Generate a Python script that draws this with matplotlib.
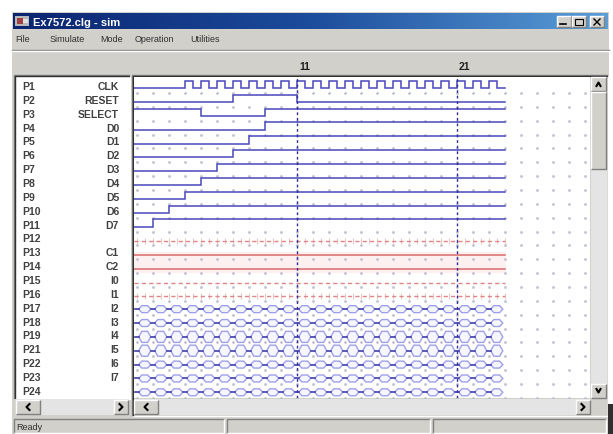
import numpy as np
import matplotlib.pyplot as plt
from matplotlib.patches import Rectangle, Polygon
from matplotlib.colors import LinearSegmentedColormap

plt.rcParams['font.family'] = ['Liberation Sans', 'DejaVu Sans']

# 信号列表
pin_labels = ['P1', 'P2', 'P3', 'P4', 'P5', 'P6', 'P7', 'P8', 'P9', 'P10', 'P11', 'P12',
              'P13', 'P14', 'P15', 'P16', 'P17', 'P18', 'P19', 'P21', 'P22', 'P23', 'P24']
signal_names = ['CLK', 'RESET', 'SELECT', 'D0', 'D1', 'D2', 'D3', 'D4', 'D5', 'D6', 'D7', '',
                'C1', 'C2', 'I0', 'I1', 'I2', 'I3', 'I4', 'I5', 'I6', 'I7', '']

# 时间范围
t_start = 0.83
t_end = 24
t_view = 29.33

# 逻辑信号：初始电平和跳变时刻
clk_edges = [4, 4.5, 5, 5.5, 6, 6.5, 7, 7.5, 8, 8.5, 9, 9.5, 10, 10.5, 11, 11.5,
             12, 12.5, 13, 13.5, 14, 14.5, 15, 15.5, 16, 16.5, 17, 17.5, 18, 18.5,
             19, 19.5, 20, 20.5, 21, 21.5, 22, 22.5, 23, 23.5]
reset_edges = [7, 11]
select_edges = [5, 9]
data_edges = [[9], [8], [7], [6], [5], [4], [3], [2]]  # D0..D7
logic_init = [0, 0, 1, 0, 0, 0, 0, 0, 0, 0, 0]

# 红色行 (P12..P16) 的样式
red_rows = [11, 12, 13, 14, 15]
red_kind = ['tick', 'solid', 'solid', 'dash', 'tick']

# 总线行 (P17..P24)
bus_rows = [16, 17, 18, 19, 20, 21, 22]
bus_edges = [1, 2, 3, 4, 5, 6, 7, 8, 9, 10, 11, 12, 13, 14, 15, 16, 17, 18, 19, 20,
             21, 22, 23, 24]
bus_height = [0.25, 0.25, 0.4, 0.4, 0.25, 0.25, 0.25]

cursor_times = [11, 21]
cursor_labels = ['11', '21']

W, H = 613, 435
GREY = '#d2d0cb'
DARK = '#808080'
BLUE = '#4848bc'

fig = plt.figure(figsize=(W / 100, H / 100), dpi=100)
fig.patch.set_facecolor('white')

# 窗口外框（像素坐标）
bg = fig.add_axes([0, 0, 1, 1])
bg.set_xlim(0, W)
bg.set_ylim(H, 0)
bg.axis('off')


def box(x0, y0, x1, y1, fc, ec=None, lw=0.8, z=1):
    bg.add_patch(Rectangle((x0, y0), x1 - x0, y1 - y0, facecolor=fc,
                           edgecolor=ec if ec else 'none', lw=lw, zorder=z))


def bevel(x0, y0, x1, y1, sunken=True, z=3):
    c1, c2 = (DARK, 'white') if sunken else ('white', DARK)
    bg.plot([x0, x0, x1], [y1, y0, y0], color=c1, lw=1, zorder=z, solid_capstyle='butt')
    bg.plot([x0, x1, x1], [y1, y1, y0], color=c2, lw=1, zorder=z, solid_capstyle='butt')


box(12, 13, 609, 435, GREY)
# 标题栏渐变
grad = np.linspace(0, 1, 256).reshape(1, -1)
cm = LinearSegmentedColormap.from_list('tb', ['#0a2470', '#1c4c9c', '#5a9ed8'])
bg.imshow(grad, cmap=cm, extent=(13, 608, 30, 14), aspect='auto', zorder=2)
box(15, 17, 29, 27, '#b8b8b8', z=3)
box(17, 19, 23, 25, '#a04040', z=3)
box(23, 20, 28, 24, '#e0e0e0', z=3)
bg.text(33, 22.5, 'Ex7572.clg - sim', color='white', fontsize=8, fontweight='bold',
        va='center', ha='left', zorder=4)
for bx in [557, 572, 590]:
    box(bx, 17, bx + 14, 28, GREY, z=3)
    bevel(bx, 17, bx + 14, 28, sunken=False, z=4)
bg.plot([560, 566], [25, 25], color='black', lw=1.2, zorder=5)
box(575, 19.5, 583, 26, 'none', ec='black', lw=0.8, z=5)
bg.plot([594, 600], [20, 26], color='black', lw=1, zorder=5)
bg.plot([594, 600], [26, 20], color='black', lw=1, zorder=5)

# 菜单
for mx, name in [(15, 'File'), (50, 'Simulate'), (100, 'Mode'), (135, 'Operation'),
                 (190, 'Utilities')]:
    bg.text(mx, 40, name, fontsize=6.5, color='#303030', va='center', ha='left', zorder=4)
bg.plot([12, 609], [50.5, 50.5], color=DARK, lw=1, zorder=3)
bg.plot([12, 609], [52, 52], color='white', lw=1, zorder=3)

# 左侧信号名面板
box(14, 76, 130, 400, 'white', z=2)
bevel(14, 76, 130, 400, sunken=True, z=3)
bg.plot([15, 15, 129], [399, 77, 77], color='#303030', lw=1, zorder=3)

# 波形面板边框和滚动条
box(132, 76, 609, 417, GREY, z=2)
bevel(132, 76, 608, 417, sunken=True, z=3)
bg.plot([133, 133, 607], [416, 77, 77], color='#303030', lw=1, zorder=3)
# 垂直滚动条
box(591, 78, 607, 399, '#e4e4e4', z=3)
box(591, 78, 606, 92, GREY, z=4)
bevel(591, 78, 606, 92, sunken=False, z=5)
bg.plot([596.5, 598.5, 600.5], [87, 83.5, 87], color='black', lw=1.5, zorder=6)
box(591, 93, 606, 170, GREY, z=4)
bevel(591, 93, 606, 170, sunken=False, z=5)
box(591, 385, 606, 399, GREY, z=4)
bevel(591, 385, 606, 399, sunken=False, z=5)
bg.plot([596.5, 598.5, 600.5], [390, 393.5, 390], color='black', lw=1.5, zorder=6)
# 水平滚动条
box(134, 400, 590, 416, '#e4e4e4', z=3)
for x0, x1, d in [(134, 158, -1), (576, 590, 1)]:
    box(x0, 401, x1, 415, GREY, z=4)
    bevel(x0, 401, x1, 415, sunken=False, z=5)
    cx = (x0 + x1) / 2
    bg.plot([cx - 1.5 * d, cx + 1.5 * d, cx - 1.5 * d], [405, 408, 411], color='black',
            lw=1.5, zorder=6)
box(16, 400, 129, 416, '#e4e4e4', z=3)
for x0, x1, d in [(16, 40, -1), (114, 128, 1)]:
    box(x0, 401, x1, 415, GREY, z=4)
    bevel(x0, 401, x1, 415, sunken=False, z=5)
    cx = (x0 + x1) / 2
    bg.plot([cx - 1.5 * d, cx + 1.5 * d, cx - 1.5 * d], [405, 408, 411], color='black',
            lw=1.5, zorder=6)

# 状态栏
bevel(14, 420, 224, 434, sunken=True, z=3)
bevel(227, 420, 430, 434, sunken=True, z=3)
bevel(433, 420, 606, 434, sunken=True, z=3)
bg.text(16, 428, 'Ready', fontsize=6.5, color='#303030', va='center', ha='left', zorder=4)
box(608, 405, 613, 435, '#303030', z=6)

# 波形区
ax = fig.add_axes([134 / W, 1 - 399 / H, (590 - 134) / W, (399 - 78) / H])
ax.set_xlim(t_start, t_view)
ax.set_ylim(22.51, -0.65)
ax.set_facecolor('white')
for s in ax.spines.values():
    s.set_visible(False)
ax.set_xticks([])
ax.set_yticks([])

# 点阵背景
gx, gy = np.meshgrid(np.arange(1, 30), np.arange(0, 23) + 0.5)
ax.plot(gx.ravel(), gy.ravel(), ls='', marker='s', ms=0.9, color='#c0c0d0', zorder=1)


def step_xy(init, edges):
    xs, ys = [t_start], [init]
    lvl = init
    for e in edges:
        xs += [e, e]
        ys += [lvl, 1 - lvl]
        lvl = 1 - lvl
    xs.append(t_end)
    ys.append(lvl)
    return np.array(xs), np.array(ys)


logic_edges = [clk_edges, reset_edges, select_edges] + data_edges
for i, (init, edges) in enumerate(zip(logic_init, logic_edges)):
    xs, ys = step_xy(init, edges)
    ax.plot(xs, i + 0.15 - 0.52 * ys, color=BLUE, lw=1.1, zorder=3,
            solid_joinstyle='miter')

# 红色行
for r, kind in zip(red_rows, red_kind):
    y = r + 0.18
    if kind == 'solid':
        ax.plot([t_start, t_end], [y, y], color='#d86a6a', lw=1.1, zorder=3)
    else:
        ax.plot([t_start, t_end], [y, y], color='#e08484', lw=1.0, zorder=3,
                ls=(0, (3, 2.3)))
        if kind == 'tick':
            tx = np.array(bus_edges, dtype=float)
            tx = np.concatenate([tx, tx - 0.5])
            ax.plot(tx, np.full(tx.shape, y), ls='', marker='|', ms=4.5, mew=0.7,
                    color='#f2c0c0', zorder=2)
ax.axhspan(12.0, 13.4, color='#fdf0f0', zorder=0.5,
           xmax=(t_end - t_start) / (t_view - t_start))

# 总线行
for r, h in zip(bus_rows, bus_height):
    c = r + 0.1
    for a, b in zip(bus_edges[:-1], bus_edges[1:]):
        s = 0.12
        pts = [(a + s, c), (a + s + 0.2, c - h), (b - s - 0.2, c - h), (b - s, c),
               (b - s - 0.2, c + h), (a + s + 0.2, c + h)]
        ax.add_patch(Polygon(pts, closed=True, facecolor='#f6f6ff', edgecolor='#a0a0ea',
                             lw=1.0, zorder=3))
    for e in bus_edges[:-1]:
        ax.plot([max(e - 0.12, t_start), e + 0.12], [c, c], color='#4040aa', lw=1.2,
                zorder=4)

# 游标线
for tc, lab in zip(cursor_times, cursor_labels):
    ax.axvline(tc, color='#30309a', lw=1.0, ls=(0, (2, 2)), zorder=5)
    ax.text(tc + 0.15, 1.034, lab, transform=ax.get_xaxis_transform(), fontsize=7.5,
            fontweight='bold', color='#202020', ha='left', va='center', clip_on=False)

# 信号名
lab_ax = fig.add_axes([16 / W, 1 - 399 / H, (128 - 16) / W, (399 - 78) / H])
lab_ax.set_ylim(22.51, -0.65)
lab_ax.set_xlim(0, 1)
lab_ax.axis('off')
for i, (p, n) in enumerate(zip(pin_labels, signal_names)):
    lab_ax.text(0.06, i, p, fontsize=7.5, fontweight='bold', color='#404040',
                ha='left', va='center')
    lab_ax.text(0.92, i, n, fontsize=7.5, fontweight='bold', color='#404040',
                ha='right', va='center')

fig.savefig('out.png', dpi=100)
